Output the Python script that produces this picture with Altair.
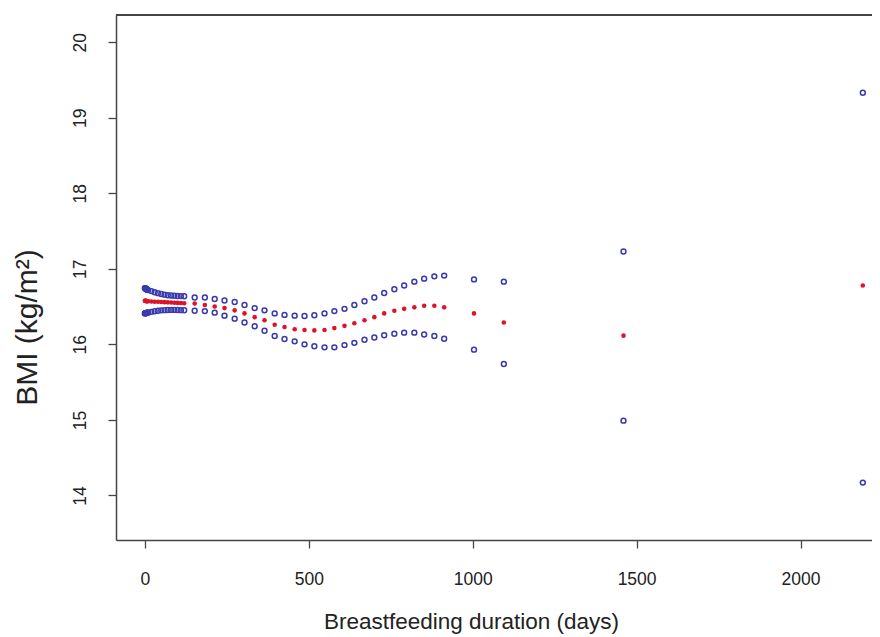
import altair as alt
import pandas as pd

# Breastfeeding duration (days) at which predictions are shown
days = [0, 1, 2, 3, 4, 5, 6, 7, 10, 20, 30, 40, 50, 60, 70, 80, 90, 100, 110, 120,
        152, 183, 213, 243, 274, 304, 335, 365, 396, 426, 457, 487, 517, 548, 578,
        609, 639, 670, 700, 730, 761, 791, 822, 852, 883, 913,
        1004, 1095, 1460, 2190]

upper = [16.745, 16.742, 16.739, 16.736, 16.733, 16.730, 16.727, 16.724, 16.718, 16.705,
         16.690, 16.678, 16.667, 16.658, 16.651, 16.646, 16.643, 16.641, 16.639, 16.636,
         16.62, 16.62, 16.60, 16.58, 16.56, 16.52, 16.48, 16.45, 16.41, 16.39, 16.38,
         16.375, 16.385, 16.41, 16.44, 16.47, 16.52, 16.57, 16.62, 16.68, 16.73, 16.78,
         16.83, 16.87, 16.90, 16.91,
         16.86, 16.83, 17.23, 19.33]

center = [16.578, 16.577, 16.576, 16.575, 16.574, 16.573, 16.572, 16.571, 16.570, 16.567,
          16.565, 16.563, 16.561, 16.559, 16.556, 16.553, 16.551, 16.549, 16.547, 16.545,
          16.54, 16.52, 16.50, 16.48, 16.45, 16.41, 16.36, 16.32, 16.26, 16.23, 16.20,
          16.19, 16.185, 16.19, 16.215, 16.245, 16.28, 16.32, 16.36, 16.41, 16.445, 16.47,
          16.49, 16.51, 16.51, 16.49,
          16.41, 16.29, 16.115, 16.78]

lower = [16.410, 16.412, 16.413, 16.414, 16.415, 16.416, 16.417, 16.418, 16.421, 16.430,
         16.438, 16.445, 16.450, 16.453, 16.455, 16.456, 16.456, 16.455, 16.453, 16.451,
         16.445, 16.44, 16.42, 16.38, 16.34, 16.29, 16.24, 16.18, 16.11, 16.07, 16.04,
         16.00, 15.975, 15.96, 15.96, 15.99, 16.02, 16.06, 16.09, 16.12, 16.14, 16.155,
         16.155, 16.13, 16.11, 16.075,
         15.93, 15.74, 14.99, 14.17]

x_ticks = [0, 500, 1000, 1500, 2000]
y_ticks = [14, 15, 16, 17, 18, 19, 20]

W, H = 756, 525
FONT = "Liberation Sans"
AX = "#444444"

ci_df = pd.DataFrame({"days": days + days, "bmi": upper + lower})
c_df = pd.DataFrame({"days": days, "bmi": center})

x_scale = alt.Scale(domain=[-88, 2218], nice=False, zero=False)
y_scale = alt.Scale(domain=[13.41, 20.36], nice=False, zero=False)

x_axis = alt.Axis(
    title="Breastfeeding duration (days)", values=x_ticks, format="d", grid=False,
    domainColor=AX, domainWidth=1.5, tickColor=AX, tickWidth=1.3, tickSize=8,
    labelFont=FONT, labelFontSize=17.5, labelColor="#222222",
    labelBaseline="alphabetic", labelPadding=36, labelFlush=False,
    titleFont=FONT, titleFontSize=22.5, titleFontWeight="normal", titleColor="#222222",
    titleBaseline="alphabetic", titleAlign="center", titleX=355, titleY=88,
)
y_axis = alt.Axis(
    title="BMI (kg/m²)", values=y_ticks, format="d", grid=False,
    domainColor=AX, domainWidth=1.5, tickColor=AX, tickWidth=1.3, tickSize=8,
    labelFont=FONT, labelFontSize=17.5, labelColor="#222222",
    labelAngle=270, labelAlign="center", labelBaseline="alphabetic", labelPadding=23,
    labelFlush=False,
    titleFont=FONT, titleFontSize=30, titleFontWeight="normal", titleColor="#222222",
    titleAngle=270, titleAlign="center", titleBaseline="alphabetic",
    titleX=-80, titleY=312,
)

ci = alt.Chart(ci_df).mark_point(
    shape="circle", filled=False, size=24, strokeWidth=1.5, color="#3a3ab0", opacity=1
).encode(
    x=alt.X("days:Q", scale=x_scale, axis=x_axis),
    y=alt.Y("bmi:Q", scale=y_scale, axis=y_axis),
)

mid = alt.Chart(c_df).mark_circle(size=21, color="#dd1428", opacity=1).encode(
    x=alt.X("days:Q", scale=x_scale),
    y=alt.Y("bmi:Q", scale=y_scale),
)

top_line = alt.Chart(c_df).mark_rule(color=AX, strokeWidth=1.5).encode(
    x=alt.value(0), x2=alt.value(W), y=alt.value(0)
)

chart = alt.layer(ci, mid, top_line).properties(
    width=W, height=H,
    padding={"left": 108, "top": 7, "right": 0, "bottom": 97},
    autosize=alt.AutoSizeParams(type="none"),
).configure_view(stroke=None).configure(background="white")

chart.save("out.html", embed_options={"renderer": "svg", "actions": False})
